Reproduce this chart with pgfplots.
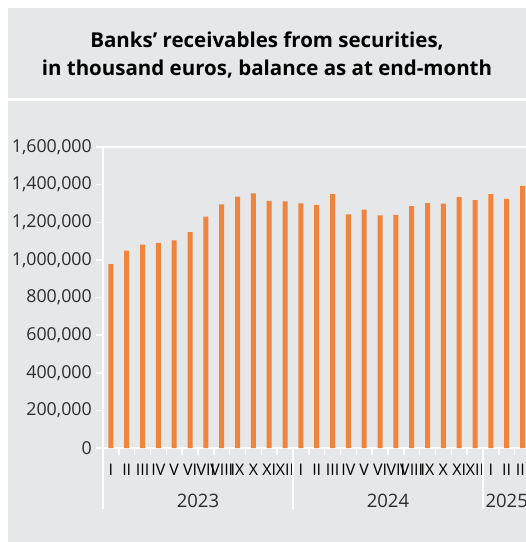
\documentclass[border=0pt]{standalone}
\usepackage{fontspec}
\setmainfont{Open Sans}
\usepackage{pgfplots}
\pgfplotsset{compat=1.18}
\definecolor{bg}{RGB}{230,231,232}
\definecolor{barc}{RGB}{240,132,60}
\definecolor{txt}{RGB}{45,45,45}
\begin{document}
\begin{tikzpicture}[x=1pt,y=1pt]
\useasboundingbox (0,0) rectangle (526,542);
\fill[white] (0,0) rectangle (526,542);
\fill[bg] (8,444) rectangle (526,534);
\fill[bg] (8,0) rectangle (526,441);
\node[anchor=base, inner sep=0pt, font=\bfseries\fontsize{20.5}{20.5}\selectfont, text=black] at (267,494.7) {Banks’ receivables from securities,};
\node[anchor=base, inner sep=0pt, font=\bfseries\fontsize{20.5}{20.5}\selectfont, text=black] at (267,466.5) {in thousand euros, balance as at end-month};
\begin{axis}[
  at={(103pt,94pt)}, anchor=south west, scale only axis,
  width=423pt, height=301pt,
  xmin=-0.5, xmax=26.22, ymin=0, ymax=1600000,
  axis x line*=bottom, axis y line*=left,
  axis line style={white, line width=2pt},
  clip=false,
  tick align=outside,
  major tick length=0pt, minor tick length=7pt,
  tick style={white, line width=1.5pt},
  xtick={0,...,26},
  xticklabels={I,II,III,IV,V,VI,VII,VIII,IX,X,XI,XII,I,II,III,IV,V,VI,VII,VIII,IX,X,XI,XII,I,II,III},
  minor xtick={0.5,1.5,...,25.5},
  ytick={0,200000,...,1600000},
  minor ytick={0,200000,...,1600000},
  scaled y ticks=false,
  /pgf/number format/.cd, fixed, 1000 sep={,}, assume math mode=true,
  /pgfplots/.cd,
  yticklabel style={anchor=east, inner sep=0pt, xshift=-11pt, font=\fontsize{17.8}{18}\selectfont, text=txt},
  xticklabel style={anchor=base, inner sep=0pt, yshift=-27pt, font=\fontsize{16}{16}\selectfont, text=black},
]
\draw[white, line width=2pt] (rel axis cs:0,1) -- (rel axis cs:1,1);
\addplot[ybar, bar width=5pt, fill=barc, draw=none] coordinates {
(0,978000) (1,1049000) (2,1081000) (3,1091000) (4,1104000) (5,1148000)
(6,1230000) (7,1295000) (8,1336000) (9,1354000) (10,1313000) (11,1311000)
(12,1301000) (13,1293000) (14,1350000) (15,1242000) (16,1267000) (17,1237000)
(18,1239000) (19,1286000) (20,1302000) (21,1299000) (22,1334000) (23,1318000)
(24,1349000) (25,1324000) (26,1393000)
};
\draw[white, line width=1.5pt] (axis cs:-0.5,0) -- ([yshift=-61pt]axis cs:-0.5,0);
\draw[white, line width=1.5pt] (axis cs:11.5,0) -- ([yshift=-61pt]axis cs:11.5,0);
\draw[white, line width=1.5pt] (axis cs:23.5,0) -- ([yshift=-61pt]axis cs:23.5,0);
\node[anchor=base, inner sep=0pt, font=\fontsize{18.5}{19}\selectfont, text=txt] at (axis cs:5.5,0) [yshift=-59pt] {2023};
\node[anchor=base, inner sep=0pt, font=\fontsize{18.5}{19}\selectfont, text=txt] at (axis cs:17.5,0) [yshift=-59pt] {2024};
\node[anchor=base, inner sep=0pt, font=\fontsize{18.5}{19}\selectfont, text=txt] at (axis cs:25,0) [yshift=-59pt] {2025};
\end{axis}
\end{tikzpicture}
\end{document}
